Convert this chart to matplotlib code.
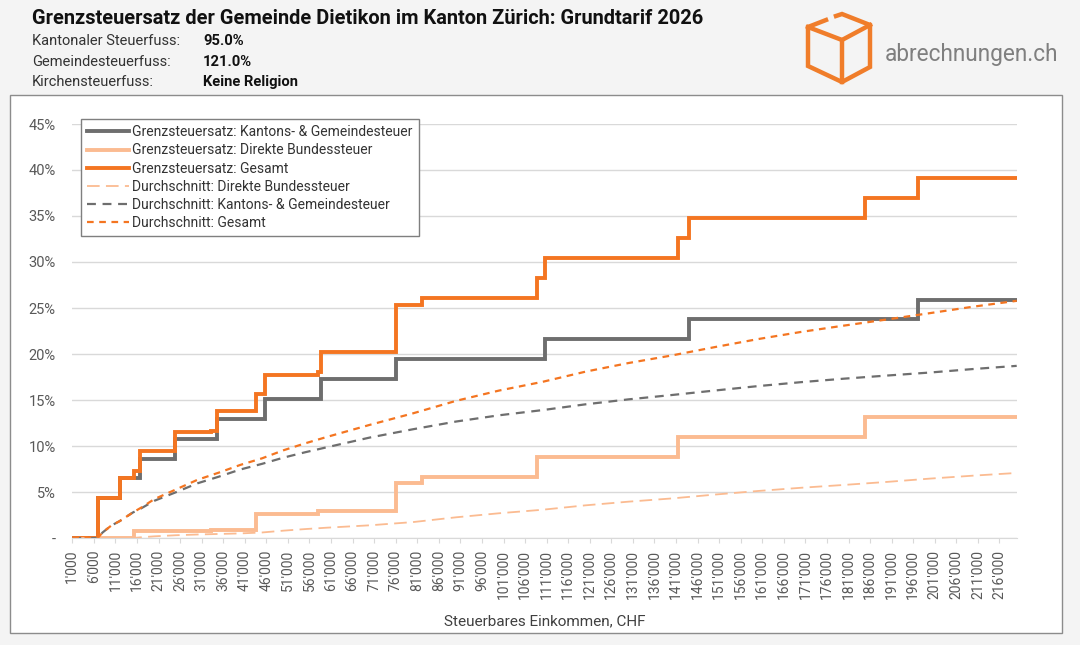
import matplotlib.pyplot as plt
from matplotlib.patches import Rectangle
from matplotlib.lines import Line2D
from matplotlib.ticker import FuncFormatter
import numpy as np

plt.rcParams['font.family'] = ['Roboto', 'DejaVu Sans']

# Grenzsteuersatz (step functions, value holds from x until next x), in %
kg_x = [1000, 6900, 12000, 16800, 24900, 34500, 45600, 58600, 76100, 110500, 144000, 197200, 220000]
kg_rate = [0, 4.32, 6.48, 8.64, 10.80, 12.96, 15.12, 17.28, 19.44, 21.60, 23.76, 25.92, 25.92]

bund_x = [1000, 15200, 33200, 43500, 58000, 76100, 82000, 108800, 141500, 184900, 220000]
bund_rate = [0, 0.77, 0.88, 2.64, 2.97, 5.94, 6.60, 8.80, 11.00, 13.20, 13.20]

ges_x = [1000, 6900, 12000, 15200, 16800, 24900, 33200, 34500, 43500, 45600, 58000, 58600,
         76100, 82000, 108800, 110500, 141500, 144000, 184900, 197200, 220000]
ges_rate = [0, 4.32, 6.48, 7.25, 9.41, 11.57, 11.68, 13.84, 15.60, 17.76, 18.09, 20.25,
            25.38, 26.04, 28.24, 30.40, 32.60, 34.76, 36.96, 39.12, 39.12]

# Durchschnittssteuersatz, in %
avg_x = [1000, 6900, 8000, 10000, 12000, 15000, 17000, 20000, 25000, 30000, 35000, 40000,
         45000, 50000, 55000, 60000, 70000, 80000, 90000, 100000, 110000, 120000, 130000,
         140000, 150000, 160000, 170000, 180000, 190000, 200000, 210000, 220000]
avg_bund = [0, 0, 0, 0, 0, 0, 0.08, 0.18, 0.30, 0.38, 0.44, 0.50,
            0.60, 0.80, 0.97, 1.12, 1.38, 1.73, 2.25, 2.69, 3.07, 3.55, 3.95,
            4.30, 4.72, 5.11, 5.46, 5.77, 6.10, 6.46, 6.78, 7.07]
avg_kg = [0, 0, 0.59, 1.34, 1.84, 2.76, 3.23, 4.04, 4.97, 5.94, 6.67, 7.45,
          8.06, 8.74, 9.32, 9.86, 10.92, 11.82, 12.66, 13.34, 13.90, 14.53, 15.07,
          15.54, 16.03, 16.51, 16.94, 17.32, 17.66, 17.99, 18.37, 18.71]
avg_ges = [0, 0, 0.59, 1.34, 1.84, 2.76, 3.31, 4.22, 5.27, 6.32, 7.11, 7.95,
           8.66, 9.54, 10.29, 10.98, 12.30, 13.55, 14.91, 16.03, 16.97, 18.08, 19.02,
           19.84, 20.75, 21.62, 22.40, 23.09, 23.76, 24.45, 25.15, 25.78]

W, H = 1080, 645
fig = plt.figure(figsize=(W / 100, H / 100), dpi=100, facecolor='#f4f4f4')

# white chart box
fig.patches.append(Rectangle((10 / W, 1 - 633 / H), 1052 / W, 538 / H, transform=fig.transFigure,
                             facecolor='white', edgecolor='#8c8c8c', linewidth=1, zorder=-10))

ax = fig.add_axes([72.3 / W, 1 - 538 / H, (1016.7 - 72.3) / W, (538 - 124) / H])
ax.set_zorder(1)
ax.set_facecolor('white')

grey = '#6e6e6e'
light = '#fbbb91'
orange = '#f47521'

ax.plot(kg_x, kg_rate, drawstyle='steps-post', color=grey, lw=2.8,
        label='Grenzsteuersatz: Kantons- & Gemeindesteuer', solid_joinstyle='miter')
ax.plot(bund_x, bund_rate, drawstyle='steps-post', color=light, lw=2.8,
        label='Grenzsteuersatz: Direkte Bundessteuer', solid_joinstyle='miter')
ax.plot(ges_x, ges_rate, drawstyle='steps-post', color=orange, lw=2.8,
        label='Grenzsteuersatz: Gesamt', solid_joinstyle='miter')
ax.plot(avg_x, avg_bund, color=light, lw=1.3, dashes=(7, 3.5),
        label='Durchschnitt: Direkte Bundessteuer')
ax.plot(avg_x, avg_kg, color=grey, lw=1.6, dashes=(4, 3),
        label='Durchschnitt: Kantons- & Gemeindesteuer')
ax.plot(avg_x, avg_ges, color=orange, lw=1.6, dashes=(3, 2.5),
        label='Durchschnitt: Gesamt')

ax.set_xlim(1000, 220000)
ax.set_ylim(0, 45)
ax.set_yticks(np.arange(0, 46, 5))
ax.yaxis.set_major_formatter(FuncFormatter(lambda v, p: '-' if v == 0 else f'{v:.0f}%'))
ax.set_xticks(np.arange(1000, 217000, 5000))
ax.xaxis.set_major_formatter(FuncFormatter(lambda v, p: f'{int(v):,}'.replace(',', "'")))
ax.tick_params(axis='x', rotation=90, length=3.5, color='#d9d9d9', pad=5,
               labelsize=10, labelcolor='#595959')
ax.tick_params(axis='y', length=0, pad=12, labelsize=10.5, labelcolor='#595959')
ax.grid(axis='y', color='#d9d9d9', lw=1)
ax.set_axisbelow(True)
for s in ['top', 'right', 'left']:
    ax.spines[s].set_visible(False)
ax.spines['bottom'].set_color('#d9d9d9')
ax.set_xlabel('Steuerbares Einkommen, CHF', fontsize=11, color='#404040', labelpad=11)

leg = ax.legend(loc='upper left', bbox_to_anchor=(80.7 / W, 1 - 119 / H), bbox_transform=fig.transFigure,
                borderaxespad=0, fancybox=False, edgecolor='#7f7f7f', fontsize=10,
                handlelength=3.0, handletextpad=0.25, labelspacing=0.3, borderpad=0.45,
                framealpha=1)
leg.get_frame().set_linewidth(1)
for t in leg.get_texts():
    t.set_color('#333333')

# header
fig.text(32 / W, 1 - 18 / H, 'Grenzsteuersatz der Gemeinde Dietikon im Kanton Zürich: Grundtarif 2026',
         fontsize=14.4, fontweight='bold', color='#111111', va='center')
rows = [('Kantonaler Steuerfuss:', '95.0%'), ('Gemeindesteuerfuss:', '121.0%'),
        ('Kirchensteuerfuss:', 'Keine Religion')]
for i, (lab, val) in enumerate(rows):
    y = 1 - (41 + i * 20.5) / H
    fig.text(32 / W, y, lab, fontsize=10.5, color='#333333', va='center')
    fig.text(203 / W, y, val, fontsize=10.6, fontweight='bold', color='#111111', va='center')

# logo
cube = [[(836, 16), (842, 14), (870, 25), (870, 67), (842, 82), (808, 66), (808, 27), (826, 20)],
        [(808, 27), (842, 40), (870, 25)],
        [(842, 40), (842, 82)]]
for seg in cube:
    xs = [p[0] / W for p in seg]
    ys = [1 - p[1] / H for p in seg]
    fig.add_artist(Line2D(xs, ys, transform=fig.transFigure, color='#f07d2a', lw=3.2,
                          solid_joinstyle='miter'))
fig.text(885 / W, 1 - 55 / H, 'abrechnungen.ch', fontsize=16.3, color='#7f7f7f', va='center')

fig.savefig('out.png', dpi=100, facecolor=fig.get_facecolor())
